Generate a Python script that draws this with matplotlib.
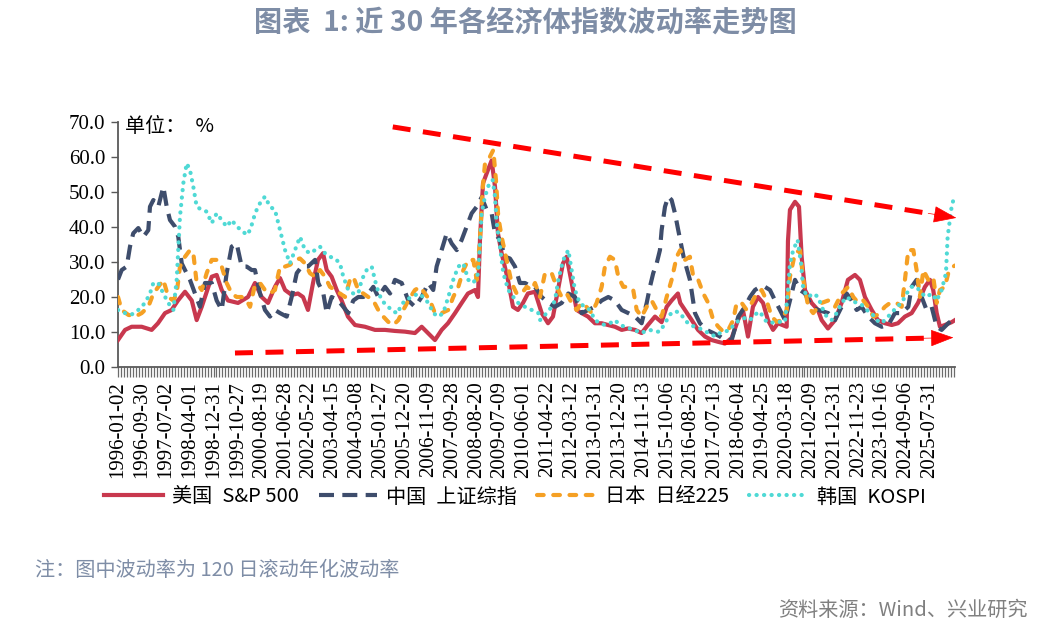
import matplotlib
matplotlib.use("Agg")
import matplotlib.pyplot as plt
from matplotlib.lines import Line2D
from matplotlib.ticker import MultipleLocator, FixedLocator
from matplotlib.font_manager import FontProperties

# ---------------- data ----------------
tick_labels = ["1996-01-02", "1996-09-30", "1997-07-02", "1998-04-01", "1998-12-31",
               "1999-10-27", "2000-08-19", "2001-06-28", "2002-05-22", "2003-04-15",
               "2004-03-08", "2005-01-27", "2005-12-20", "2006-11-09", "2007-09-28",
               "2008-08-20", "2009-07-09", "2010-06-01", "2011-04-22", "2012-03-12",
               "2013-01-31", "2013-12-20", "2014-11-13", "2015-10-06", "2016-08-25",
               "2017-07-13", "2018-06-04", "2019-04-25", "2020-03-18", "2021-02-09",
               "2021-12-31", "2022-11-23", "2023-10-16", "2024-09-06", "2025-07-31"]
label_step = 227          # trading days between two tick labels
n_days = 7957             # last trading-day index

series_names = ["美国\u2002S&P 500", "中国\u2002上证综指", "日本\u2002日经225", "韩国\u2002KOSPI"]

# S&P 500 (trading-day index, volatility %)
sp_day = [0, 67, 130, 225, 320, 380, 447, 510, 570, 637,
          701, 748, 796, 891, 938, 986, 1046, 1141, 1236, 1302,
          1366, 1426, 1492, 1540, 1588, 1651, 1711, 1759, 1806, 1854,
          1901, 1949, 1984, 2031, 2079, 2126, 2186, 2253, 2348, 2443,
          2538, 2633, 2728, 2823, 2887, 2947, 3013, 3077, 3137, 3204,
          3267, 3327, 3394, 3422, 3441, 3470, 3517, 3552, 3584, 3612,
          3647, 3707, 3755, 3802, 3850, 3897, 3964, 4028, 4088, 4135,
          4183, 4230, 4265, 4313, 4360, 4408, 4468, 4534, 4598, 4658,
          4724, 4788, 4848, 4915, 4978, 5038, 5105, 5168, 5216, 5263,
          5323, 5345, 5390, 5454, 5514, 5580, 5644, 5704, 5770, 5834,
          5894, 5941, 5989, 6036, 6084, 6132, 6179, 6227, 6274, 6357,
          6369, 6388, 6436, 6474, 6499, 6531, 6594, 6654, 6689, 6749,
          6816, 6879, 6939, 7006, 7053, 7101, 7165, 7224, 7291, 7355,
          7415, 7481, 7545, 7605, 7671, 7719, 7750, 7783, 7814, 7861,
          7925, 7957]
sp_val = [7.7, 10.6, 11.5, 11.5, 10.6, 12.5, 15.4, 16.3, 19, 21.5,
          19, 13.4, 17.2, 25.8, 26.3, 22, 19, 18.3, 20, 24,
          20, 18.3, 22.9, 25.4, 22, 20.6, 21, 20, 16.3, 24,
          30.6, 32.5, 27.7, 25.8, 22, 19, 14.4, 12, 11.5, 10.6,
          10.6, 10.3, 10.1, 9.7, 11.5, 9.7, 7.7, 10.6, 12.5, 15.4,
          18.3, 21, 22, 20, 36.3, 52.5, 56.3, 59, 51.5, 38.2,
          32.5, 24.9, 17.2, 16.3, 18.3, 21, 21.5, 15.4, 12.5, 14.4,
          22, 29.6, 31.5, 24, 16.3, 15.4, 14.4, 12.5, 12.5, 12,
          11.5, 10.6, 11, 10.6, 9.7, 12, 14.4, 12.8, 17.2, 19,
          21, 18.3, 16.3, 13.4, 10.6, 8.7, 7.7, 7.2, 6.7, 8.3,
          13.4, 16.3, 8.7, 17.2, 20, 18.3, 13.4, 10.6, 12.5, 11.5,
          36, 44.9, 47.2, 45.8, 31.5, 22, 18.3, 16.3, 13.4, 11,
          13.4, 18.3, 24.9, 26.3, 24.9, 20, 16.3, 13.4, 12.5, 12,
          12.5, 14.4, 15.4, 18.3, 22.9, 24.9, 22, 15.4, 11.5, 12,
          12.8, 13.4]

# 上证综指
cn_day = [0, 35, 83, 114, 145, 193, 241, 288, 304, 336,
          383, 431, 463, 494, 542, 573, 606, 637, 684, 732,
          779, 827, 891, 938, 986, 1033, 1081, 1128, 1176, 1223,
          1271, 1302, 1350, 1397, 1445, 1492, 1540, 1604, 1651, 1699,
          1746, 1806, 1873, 1904, 1952, 1984, 2031, 2094, 2142, 2189,
          2237, 2284, 2332, 2379, 2427, 2474, 2538, 2586, 2633, 2697,
          2760, 2823, 2887, 2950, 2997, 3029, 3077, 3125, 3172, 3220,
          3267, 3315, 3362, 3410, 3457, 3505, 3552, 3584, 3631, 3679,
          3726, 3774, 3821, 3869, 3933, 3964, 4028, 4091, 4154, 4218,
          4281, 4344, 4408, 4471, 4534, 4598, 4661, 4724, 4788, 4851,
          4915, 4978, 5026, 5057, 5088, 5121, 5152, 5168, 5200, 5231,
          5263, 5295, 5326, 5380, 5437, 5485, 5532, 5596, 5659, 5723,
          5770, 5834, 5897, 5960, 6008, 6055, 6103, 6150, 6198, 6246,
          6293, 6341, 6388, 6436, 6484, 6531, 6594, 6657, 6752, 6816,
          6879, 6927, 6975, 7022, 7069, 7132, 7196, 7260, 7323, 7386,
          7450, 7513, 7545, 7592, 7640, 7687, 7735, 7783, 7830, 7893,
          7957]
cn_val = [25, 27.7, 28.7, 34.4, 38.2, 39.7, 37.2, 39.1, 45.8, 47.7,
          45.8, 51.5, 45.8, 42, 40.1, 37.2, 29.6, 27.7, 24.9, 21,
          17.2, 24, 24, 19, 16.3, 26.8, 34.4, 35.3, 28.7, 28.7,
          27.7, 27.7, 21, 16.3, 14.4, 16.3, 15.4, 14.4, 20, 26.8,
          28.7, 28.7, 30.6, 24, 21, 15.4, 20, 19, 17.2, 15.4,
          19, 20, 20, 21, 22.9, 20, 22.9, 21, 24.9, 24,
          19, 17.2, 20, 24, 22, 28.7, 33.4, 38.2, 35.3, 33.4,
          36.3, 40.1, 43.9, 45.8, 48.5, 44.9, 43.9, 38.2, 36.3, 31.5,
          31, 28.7, 24, 24, 22.9, 22.9, 20, 18.3, 17.2, 18.3,
          21, 20, 15.4, 16.3, 17.2, 19, 20, 19, 16.3, 15.4,
          14.4, 12.5, 18.3, 22.9, 26.8, 29.6, 33.4, 39.1, 45.8, 48.7,
          47.7, 43.9, 39.1, 31, 24.9, 15.4, 12.5, 10.6, 9.7, 8.7,
          7.7, 7.7, 14.4, 17.2, 20, 22, 22.9, 22.9, 22, 19,
          16.3, 13.4, 19, 24.9, 22, 21, 17.2, 16.3, 15.4, 13.4,
          17.2, 21, 19, 16.3, 17.2, 14.4, 12.5, 11.5, 12, 15.4,
          15.4, 17.2, 22.9, 24.9, 20, 16.3, 17.2, 11.5, 10.6, 12.5,
          14]

# 日经225
jp_day = [0, 35, 98, 162, 225, 288, 336, 383, 431, 478,
          526, 558, 589, 637, 684, 716, 748, 796, 843, 891,
          938, 986, 1033, 1081, 1128, 1176, 1223, 1255, 1302, 1350,
          1397, 1445, 1492, 1540, 1588, 1635, 1683, 1730, 1778, 1825,
          1873, 1920, 1968, 2015, 2063, 2110, 2158, 2205, 2237, 2284,
          2332, 2379, 2427, 2474, 2522, 2569, 2617, 2665, 2697, 2760,
          2823, 2871, 2918, 2966, 3013, 3077, 3140, 3187, 3235, 3283,
          3330, 3378, 3410, 3441, 3463, 3489, 3536, 3568, 3593, 3615,
          3647, 3695, 3742, 3790, 3837, 3885, 3933, 3964, 4012, 4059,
          4123, 4170, 4218, 4265, 4313, 4360, 4408, 4453, 4503, 4550,
          4598, 4629, 4677, 4724, 4756, 4803, 4851, 4898, 4931, 4978,
          5026, 5073, 5121, 5168, 5216, 5263, 5311, 5345, 5390, 5437,
          5469, 5516, 5564, 5611, 5659, 5707, 5754, 5802, 5849, 5881,
          5929, 5976, 6024, 6071, 6119, 6166, 6214, 6262, 6309, 6357,
          6388, 6436, 6484, 6515, 6562, 6609, 6657, 6689, 6752, 6816,
          6879, 6942, 6990, 7038, 7085, 7132, 7180, 7227, 7291, 7339,
          7402, 7450, 7481, 7513, 7561, 7592, 7624, 7656, 7703, 7750,
          7783, 7814, 7861, 7893, 7941, 7957]
jp_val = [20, 16.3, 14.9, 14.4, 15.4, 17.2, 21, 22.9, 24.9, 20,
          19, 21, 28.7, 31.5, 33.4, 32.5, 24, 22, 26.8, 30.6,
          30.6, 28.7, 24, 21, 20, 20, 19, 17.2, 23.5, 24,
          22, 21, 22, 28.7, 28.7, 29.2, 30.6, 31, 29.6, 26.8,
          25.8, 27.7, 25.8, 22.9, 22, 21, 20, 24.9, 25.8, 22,
          21, 20, 19, 16.3, 14.4, 12.9, 12, 13.4, 15.4, 19,
          22, 22.9, 21, 19, 15.4, 15.4, 16.3, 20, 22.9, 27.7,
          30.6, 30.6, 24.9, 36.3, 49.6, 58.2, 60.1, 62, 53.4, 42.9,
          37.2, 30.6, 24, 21, 21, 22.9, 22, 24, 20, 26.8,
          26.8, 22.9, 20, 21, 18.3, 16.3, 18.3, 17.2, 15.4, 18.3,
          22.9, 28.7, 31.5, 30.6, 25.8, 22.9, 22.9, 22, 16.3, 14.4,
          17.2, 19, 16.3, 14.4, 20, 24.9, 31.5, 33.4, 30.6, 31.5,
          25.8, 24.9, 21, 18.3, 13.4, 11.5, 10.1, 10.6, 13.4, 18.3,
          18.3, 16.3, 18.3, 21, 22, 19, 14.4, 12.9, 13.4, 16.3,
          25.8, 32.5, 33.4, 24.9, 17.2, 15.4, 17.2, 18.3, 19, 17.2,
          21, 22.9, 20, 18.3, 19, 17.2, 14.4, 15, 17.2, 18.3,
          18.3, 17.2, 24.9, 33.4, 33.4, 27.7, 20, 27.7, 24.9, 25.8,
          18.3, 22, 22.9, 26.8, 28.7, 29]

# KOSPI
kr_day = [0, 67, 130, 193, 257, 304, 336, 383, 431, 478,
          526, 558, 573, 589, 621, 653, 684, 716, 748, 796,
          843, 891, 938, 986, 1033, 1081, 1128, 1176, 1223, 1255,
          1286, 1302, 1350, 1397, 1445, 1492, 1524, 1556, 1588, 1635,
          1683, 1730, 1778, 1825, 1873, 1920, 1968, 2015, 2063, 2110,
          2142, 2189, 2237, 2284, 2317, 2364, 2412, 2459, 2507, 2569,
          2617, 2665, 2681, 2728, 2792, 2855, 2902, 2950, 2997, 3045,
          3092, 3140, 3187, 3235, 3283, 3330, 3378, 3425, 3457, 3489,
          3530, 3562, 3584, 3600, 3631, 3663, 3710, 3758, 3805, 3869,
          3933, 3996, 4012, 4075, 4123, 4154, 4186, 4233, 4281, 4313,
          4344, 4389, 4437, 4487, 4534, 4582, 4629, 4677, 4724, 4772,
          4819, 4867, 4915, 4962, 5010, 5057, 5105, 5152, 5200, 5247,
          5295, 5345, 5390, 5437, 5485, 5532, 5580, 5627, 5675, 5723,
          5770, 5818, 5865, 5913, 5960, 6008, 6055, 6103, 6150, 6198,
          6246, 6293, 6341, 6366, 6388, 6419, 6461, 6493, 6515, 6562,
          6609, 6657, 6689, 6737, 6784, 6832, 6879, 6927, 6975, 7022,
          7069, 7117, 7165, 7212, 7260, 7307, 7355, 7402, 7450, 7497,
          7545, 7592, 7640, 7687, 7735, 7783, 7830, 7871, 7887, 7900,
          7925, 7950]
kr_val = [16.3, 15.4, 15, 16.3, 18.3, 21, 24, 24, 21, 18.3,
          16.3, 24.9, 33.4, 42.9, 52.5, 58.2, 56.3, 51.5, 45.8, 44.9,
          44.4, 41.1, 43.9, 42, 40.1, 42, 40.1, 39.1, 37.7, 39.1,
          42, 43.9, 46.8, 48.7, 45.8, 44.9, 41.1, 37.2, 33.4, 29.6,
          33.4, 37.2, 33.4, 32.5, 33.4, 34.4, 32.5, 31.5, 31, 29.6,
          25.8, 22, 21, 21, 24.9, 27.7, 28.7, 22.9, 19, 17.2,
          15.8, 15.4, 17.2, 19, 20, 21, 20, 18.3, 15.4, 14.4,
          15.4, 20, 24.9, 28.7, 29.6, 24.9, 24, 26.8, 43.9, 48.7,
          52.5, 53.4, 48.7, 41.1, 34.4, 26.8, 22, 20, 18.3, 17.2,
          16.3, 15.4, 13.4, 15.4, 17.2, 19, 24.9, 30.6, 33.4, 27.7,
          22, 18.3, 17.2, 16.3, 13.4, 12.5, 12, 12.5, 13.4, 12,
          11.5, 11, 10.6, 9.7, 10.1, 10.6, 10.1, 10.1, 12.5, 15,
          16, 15.4, 13.4, 12, 11.5, 11, 10.1, 9.7, 8.7, 9.7,
          10.1, 10.6, 12.5, 13.4, 14, 13.4, 15, 15.8, 13.4, 12.5,
          12.9, 12.9, 12.9, 21, 29.6, 33.4, 36.3, 29.6, 22, 20,
          21, 20, 17.2, 14.4, 13.4, 15.4, 18.3, 20, 19, 18.3,
          17.8, 16.3, 15.4, 13.4, 12.5, 14, 15.4, 17.2, 18.3, 21,
          22.9, 22.9, 21, 20, 21, 19, 22, 26.8, 37.2, 40.1,
          45.8, 48.7]

# trend arrows (trading-day index, volatility %)
upper_arrow = [(2612, 68.6), (7970, 42.6)]
lower_arrow = [(1112, 4.0), (7942, 8.4)]

# ---------------- style ----------------
C_SP, C_CN, C_JP, C_KR = "#C8384E", "#3E4D6C", "#F5A024", "#4FD9D5"
C_ARROW = "#FF0000"
TITLE_C = "#7E8DA6"
CJK = ["Noto Sans CJK SC", "DejaVu Sans"]

fig = plt.figure(figsize=(10.5, 6.34), dpi=100)
ax = fig.add_axes([118 / 1050, 1 - 367 / 634, 837 / 1050, 245 / 634])

lw = 3.0
ls_cn = (0, (3.6, 2.0))
ls_jp = (0, (1.6, 2.3))
ls_kr = (0, (0.05, 1.75))
ax.plot(sp_day, sp_val, color=C_SP, lw=lw, solid_joinstyle="round", zorder=3)
ax.plot(cn_day, cn_val, color=C_CN, lw=lw, linestyle=ls_cn, zorder=4)
ax.plot(jp_day, jp_val, color=C_JP, lw=lw, linestyle=ls_jp, dash_capstyle="round", zorder=5)
ax.plot(kr_day, kr_val, color=C_KR, lw=lw, linestyle=ls_kr, dash_capstyle="round", zorder=6)

# red dashed trend arrows
for (x0, y0), (x1, y1) in (upper_arrow, lower_arrow):
    f = 0.965
    xe, ye = x0 + (x1 - x0) * f, y0 + (y1 - y0) * f
    ax.plot([x0, xe], [y0, ye], color=C_ARROW, lw=3.6,
            linestyle=(0, (3.6, 2.5)), solid_capstyle="butt", zorder=7, clip_on=False)
    g = 0.95
    xs, ys = x0 + (x1 - x0) * g, y0 + (y1 - y0) * g
    ax.annotate("", xy=(x1, y1), xytext=(xs, ys),
                arrowprops=dict(arrowstyle="-|>,head_length=1.5,head_width=0.55",
                                color=C_ARROW, lw=0.5, shrinkA=0, shrinkB=0,
                                mutation_scale=10),
                zorder=8, annotation_clip=False)

# axes
ax.set_xlim(0, n_days)
ax.set_ylim(0, 70)
for s in ("top", "right"):
    ax.spines[s].set_visible(False)
for s in ("left", "bottom"):
    ax.spines[s].set_color("#595959")
    ax.spines[s].set_linewidth(1.3)

ax.set_yticks(range(0, 80, 10))
ax.set_yticklabels([f"{v:.1f}" for v in range(0, 80, 10)])
ax.tick_params(axis="y", direction="out", length=5, width=1, color="#595959",
               labelsize=15, pad=4)

ax.xaxis.set_major_locator(FixedLocator([i * label_step for i in range(len(tick_labels))]))
ax.set_xticklabels(tick_labels, rotation=90)
ax.xaxis.set_minor_locator(MultipleLocator(label_step / 8))
ax.tick_params(axis="x", which="both", direction="out", length=7, width=0.9,
               color="#6b6b6b", labelsize=15, pad=3)
for lab in ax.get_xticklabels() + ax.get_yticklabels():
    lab.set_fontfamily("Liberation Serif")
    lab.set_color("#000000")

fig.text(125 / 1050, 1 - 127 / 634, "单位：\u2002%", ha="left", va="center",
         fontsize=14.5, family=CJK, color="#000000")

# legend
handles = [
    Line2D([], [], color=C_SP, lw=lw),
    Line2D([], [], color=C_CN, lw=lw, linestyle=ls_cn),
    Line2D([], [], color=C_JP, lw=lw, linestyle=ls_jp, dash_capstyle="round"),
    Line2D([], [], color=C_KR, lw=lw, linestyle=ls_kr, dash_capstyle="round"),
]
fig.legend(handles, series_names, loc="center", bbox_to_anchor=(515 / 1050, 1 - 497 / 634),
           ncol=4, frameon=False, prop=FontProperties(family=CJK, size=14.5),
           handlelength=2.9, handletextpad=0.45, columnspacing=1.0)

# title and notes
fig.text(0.5, 1 - 23 / 634, "图表  1: 近 30 年各经济体指数波动率走势图", ha="center",
         va="center", fontsize=20.3, fontweight="bold", color=TITLE_C, family=CJK)
fig.text(35 / 1050, 1 - 570 / 634, "注：图中波动率为 120 日滚动年化波动率", ha="left",
         va="center", fontsize=14.5, color=TITLE_C, family=CJK)
fig.text(1028 / 1050, 1 - 610 / 634, "资料来源：Wind、兴业研究", ha="right",
         va="center", fontsize=14.5, color="#808080", family=CJK)

fig.savefig("out.png", dpi=100)
